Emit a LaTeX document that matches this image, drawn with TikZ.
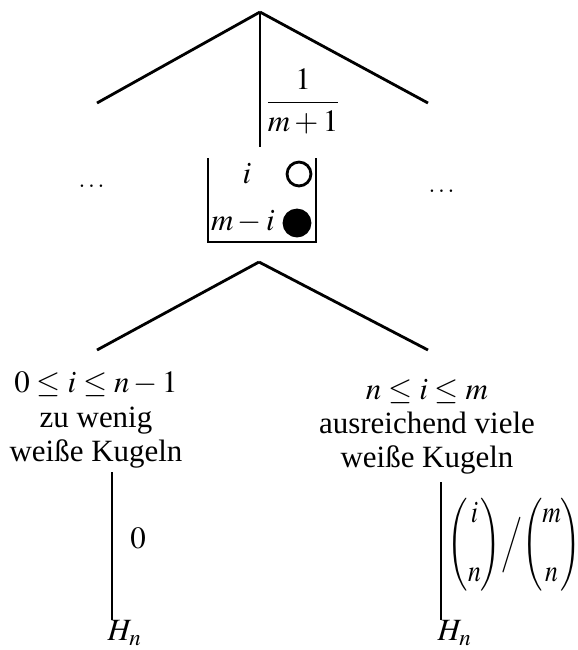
\documentclass[tikz,border=0pt]{standalone}
\usepackage{amsmath,amssymb}
\usepackage{mathptmx}
\usepackage[no-math]{fontspec}
\setmainfont{Liberation Serif}
\usetikzlibrary{positioning,calc}

\tikzset{
  branch/.style={line width=0.8pt},
  urn/.style={line width=0.8pt},
  case/.style={align=center},
  ball/.style={line width=0.8pt}
}
\newcommand{\tallbinom}[2]{\left(\begin{array}{@{}c@{}}#1\\[7pt]#2\end{array}\right)}

\begin{document}
\begin{tikzpicture}[x=0.01cm,y=-0.01cm,font=\fontsize{8.8}{9.7}\selectfont]
        \useasboundingbox (0,0) rectangle (578,650);
        % first stage
        \coordinate (top) at (260,12);
        \coordinate (topl) at (97,103);
        \coordinate (topr) at (428,103);
        \coordinate (topm) at (260,147);
        \draw[branch] (top) -- (topl);
        \draw[branch] (top) -- (topr);
        \draw[branch] (top) -- (topm);
        \node (prob) at (303,101) {$\dfrac{1}{m+1}$};
        \node (dotsl) at (93,186) {\scriptsize$\dots$};
        \node (dotsr) at (443,191) {\scriptsize$\dots$};
        % urn
        \coordinate (urnnw) at (208,158);
        \coordinate (urnne) at (316,158);
        \draw[urn] (urnnw) -- (urnnw |- 0,242) -- (urnne |- 0,242) -- (urnne);
        \node (white) at (247,174) {$i$};
        \node (black) at (243,222) {$m-i$};
        \draw[ball,fill=white] (299,174) circle[radius=3.4pt];
        \draw[ball,fill=black] (297,223) circle[radius=3.7pt];
        % second stage
        \coordinate (mid) at (259,262);
        \coordinate (midl) at (97,350);
        \coordinate (midr) at (428,350);
        \draw[branch] (mid) -- (midl);
        \draw[branch] (mid) -- (midr);
        \node[case] (few) at (96,420) {$0\le i\le n-1$\\zu wenig\\weiße Kugeln};
        \node[case] (enough) at (427,427) {$n\le i\le m$\\ausreichend viele\\weiße Kugeln};
        % outcomes
        \coordinate (fewtop) at (112,472);
        \coordinate (enoughtop) at (441,482);
        \node[anchor=north west,inner sep=0pt] (hl) at (107,620) {$H_n$};
        \node[anchor=north west,inner sep=0pt] (hr) at (437,620) {$H_n$};
        \draw[branch] (fewtop) -- (fewtop |- hl.north);
        \draw[branch] (enoughtop) -- (enoughtop |- hr.north);
        \node[anchor=west] (zero) at (118,538) {$0$};
        \node[anchor=west,inner sep=0pt] (ratio) at (447,545)
          {\scalebox{0.83}[1]{$\tallbinom{i}{n}\!\Big/\!\tallbinom{m}{n}$}};
      \end{tikzpicture}
\end{document}
